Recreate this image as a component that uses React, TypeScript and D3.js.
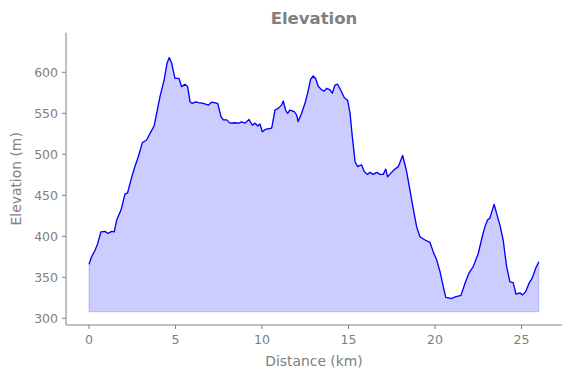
import React from "react";
import * as d3 from "d3";

const distanceKm = [
  0, 0.15, 0.35, 0.5, 0.69, 0.92, 1.11, 1.31, 1.46, 1.6, 1.85, 2.08, 2.23, 2.42, 2.62, 2.85,
  3.08, 3.33, 3.53, 3.76, 3.91, 4.1, 4.34, 4.51, 4.64, 4.78, 4.97, 5.2, 5.35, 5.55, 5.7, 5.84,
  5.97, 6.17, 6.32, 6.61, 6.9, 7.09, 7.44, 7.63, 7.76, 7.96, 8.15, 8.44, 8.67, 8.82, 9.02,
  9.25, 9.44, 9.6, 9.75, 9.88, 10.02, 10.21, 10.56, 10.75, 10.94, 11.13, 11.23, 11.36, 11.48,
  11.61, 11.86, 12.0, 12.09, 12.29, 12.48, 12.63, 12.81, 12.96, 13.1, 13.25, 13.45, 13.6,
  13.73, 13.93, 14.06, 14.22, 14.37, 14.57, 14.76, 14.95, 15.09, 15.22, 15.38, 15.53, 15.66,
  15.76, 15.91, 16.1, 16.24, 16.43, 16.63, 16.82, 17.01, 17.15, 17.26, 17.45, 17.65, 17.88,
  18.13, 18.36, 18.55, 18.74, 18.94, 19.13, 19.42, 19.71, 19.9, 20.1, 20.29, 20.48, 20.62,
  20.87, 20.96, 21.15, 21.34, 21.5, 21.73, 21.96, 22.21, 22.5, 22.73, 22.88, 23.04, 23.17,
  23.3, 23.42, 23.56, 23.75, 23.94, 24.14, 24.33, 24.52, 24.68, 24.91, 25.07, 25.24, 25.43,
  25.62, 25.82, 26.0,
];

const elevationM = [
  366, 375, 383, 391, 405.5, 406, 403.5, 406, 405.5, 420, 432, 451.5, 453, 468.5, 483, 497,
  514, 517.5, 525.5, 534.5, 550, 570, 590.5, 611, 618, 611, 592.5, 592.5, 582.5, 585.5, 582.5,
  564, 562, 564, 563, 562, 560, 563.5, 562, 546, 542, 542, 538, 538.5, 538, 539.5, 538,
  542.5, 535.5, 538, 534.5, 537, 527.5, 530.5, 532, 554, 556, 560, 565, 554, 550,
  554, 552, 548, 540, 550, 562, 574, 591.5, 595.5, 592.5, 583, 578.5, 577,
  580.5, 578.5, 574.5, 584.5, 585.5, 577.5, 569, 566, 550, 521.5, 491, 485, 486.5,
  487, 479, 475.5, 478, 475.5, 478, 475.5, 475.5, 482, 472.5, 477, 481.5, 485,
  498.5, 479, 456.5, 434, 411.5, 399.5, 395.5, 392.5, 381, 371, 357, 338.5, 325.5,
  324.5, 324, 326, 327, 328, 342.5, 355, 363, 379, 399.5, 411.5, 420, 422,
  431, 439, 428, 414, 395.5, 363, 344.5, 343.5, 329.5, 331, 328.5, 332.5, 342.5,
  349, 361, 369,
];

const fillBase = 308;
const xTicks = [0, 5, 10, 15, 20, 25];
const yTicks = [300, 350, 400, 450, 500, 550, 600];
const titleText = "Elevation";
const xLabel = "Distance (km)";
const yLabel = "Elevation (m)";

const W = 571;
const H = 378;
const L = 66;
const R = 562;
const T = 32.7;
const B = 325;
const GRAY = "#808080";

export default function App() {
  const x = d3.scaleLinear().domain([0, 25]).range([89, 521.5]);
  const y = d3.scaleLinear().domain([300, 600]).range([318.3, 72.3]);
  const pts = distanceKm.map((d, i) => [d, elevationM[i]] as [number, number]);
  const line = d3
    .line<[number, number]>()
    .x((d) => x(d[0]))
    .y((d) => y(d[1]));
  const area = d3
    .area<[number, number]>()
    .x((d) => x(d[0]))
    .y0(y(fillBase))
    .y1((d) => y(d[1]));

  return (
    <svg
      width={W}
      height={H}
      style={{ position: "fixed", left: 0, top: 0, background: "#fff" }}
      fontFamily="DejaVu Sans"
    >
      <path d={area(pts) || ""} fill="rgb(204,204,255)" stroke="rgba(0,0,255,0.2)" strokeWidth={1} />
      <path d={line(pts) || ""} fill="none" stroke="#0000ff" strokeWidth={1.3} strokeLinejoin="round" />
      <line x1={L} x2={L} y1={T} y2={B} stroke={GRAY} strokeWidth={1} />
      <line x1={L} x2={R} y1={B} y2={B} stroke={GRAY} strokeWidth={1} />
      {xTicks.map((t) => (
        <g key={"x" + t}>
          <line x1={x(t)} x2={x(t)} y1={B} y2={B + 4} stroke={GRAY} strokeWidth={1} />
          <text x={x(t)} y={B + 19} textAnchor="middle" fontSize={12.5} fill={GRAY}>
            {t}
          </text>
        </g>
      ))}
      {yTicks.map((t) => (
        <g key={"y" + t}>
          <line x1={L - 4} x2={L} y1={y(t)} y2={y(t)} stroke={GRAY} strokeWidth={1} />
          <text x={L - 8} y={y(t) + 4.5} textAnchor="end" fontSize={12.5} fill={GRAY}>
            {t}
          </text>
        </g>
      ))}
      <text x={(L + R) / 2} y={366} textAnchor="middle" fontSize={13.9} fill={GRAY}>
        {xLabel}
      </text>
      <text
        transform={`translate(21,${(T + B) / 2}) rotate(-90)`}
        textAnchor="middle"
        fontSize={13.9}
        fill={GRAY}
      >
        {yLabel}
      </text>
      <text x={(L + R) / 2} y={24} textAnchor="middle" fontSize={16.5} fontWeight="bold" fill={GRAY}>
        {titleText}
      </text>
    </svg>
  );
}
